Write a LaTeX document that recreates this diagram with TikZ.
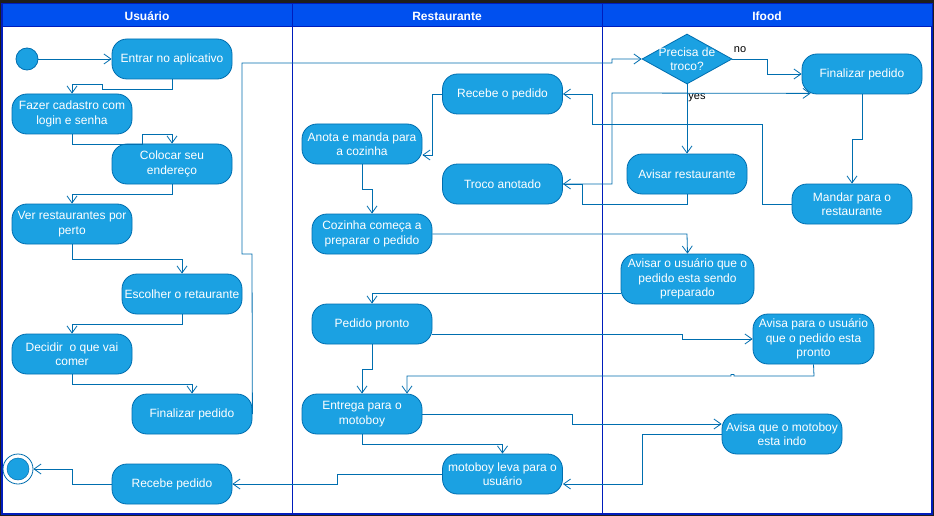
\documentclass[tikz,border=0pt]{standalone}
\usepackage{fontspec}
\setmainfont{Liberation Sans}
\usetikzlibrary{arrows.meta,shapes.geometric,calc}
\definecolor{nodefill}{HTML}{1BA1E2}
\definecolor{nodeline}{HTML}{006EAF}
\definecolor{headfill}{HTML}{0050EF}
\definecolor{laneline}{HTML}{001DBC}
\definecolor{darkbg}{HTML}{1E1E1E}
\begin{document}
\begin{tikzpicture}[x=1pt,y=-1pt,
  act/.style={draw=nodeline, fill=nodefill, rounded corners=15pt, text=white,
    font=\fontsize{12}{14.4}\selectfont, align=center,
    minimum width=120pt, minimum height=40pt, inner sep=1pt, line width=0.8pt},
  flow/.style={draw=nodeline, line width=0.8pt, -{Straight Barb[length=7pt,width=10pt]}},
  headtext/.style={text=white, font=\bfseries\fontsize{12}{14}\selectfont},
  lbl/.style={text=black, font=\fontsize{11}{13}\selectfont, inner sep=0pt}
]
\useasboundingbox (0,0) rectangle (934,516);
% background and frame
\fill[darkbg] (0,0) rectangle (934,516);
\filldraw[fill=white, draw=laneline, line width=2pt] (2,4) rectangle (932,514);
\filldraw[fill=headfill, draw=laneline, line width=1pt] (2,4) rectangle (932,27);
\draw[laneline, line width=1pt] (292,4) -- (292,514);
\draw[laneline, line width=1pt] (602,4) -- (602,514);
\node[headtext] (hU) at (147,16) {Usuário};
\node[headtext] (hR) at (447,16) {Restaurante};
\node[headtext] (hI) at (767,16) {Ifood};

% Usuario lane
\node[circle, fill=nodefill, draw=nodeline, line width=0.8pt, minimum size=22pt, inner sep=0pt] (start) at (27,59) {};
\node[act] (entrar) at (172,59) {Entrar no aplicativo};
\node[act] (fazer) at (72,114) {Fazer cadastro com\\login e senha};
\node[act] (colocar) at (172,164) {Colocar seu\\endereço};
\node[act] (ver) at (72,224) {Ver restaurantes por\\perto};
\node[act] (escolher) at (182,294) {Escolher o retaurante};
\node[act] (decidir) at (72,354) {Decidir\ \ o que vai\\comer};
\node[act] (finU) at (192,414) {Finalizar pedido};
\node[act] (recebeU) at (172,484) {Recebe pedido};
\node[circle, draw=nodeline, line width=0.8pt, minimum size=30pt, inner sep=0pt] (endc) at (18,469) {};
\node[circle, fill=nodefill, draw=nodeline, line width=0.5pt, minimum size=22pt, inner sep=0pt] (endin) at (18,469) {};

% Restaurante lane
\node[act] (recebeR) at (502.5,94) {Recebe o pedido};
\node[act] (anota) at (362,144) {Anota e manda para\\a cozinha};
\node[act] (troco) at (502.5,184) {Troco anotado};
\node[act] (cozinha) at (372,234) {Cozinha começa a\\preparar o pedido};
\node[act] (pronto) at (372,324) {Pedido pronto};
\node[act] (entrega) at (362,414) {Entrega para o\\motoboy};
\node[act] (motoboy) at (502.5,474) {motoboy leva para o\\usuário};

% Ifood lane
\node[diamond, aspect=1.8, fill=nodefill, draw=nodeline, line width=0.8pt, minimum width=90pt, minimum height=50pt, inner sep=0pt, text=white, align=center, font=\fontsize{12}{14}\selectfont] (dec) at (687,59) {};
\node[text=white, align=center, font=\fontsize{12}{14}\selectfont] (dectext) at (687,59) {Precisa de\\troco?};
\node[act] (finI) at (862,74) {Finalizar pedido};
\node[act] (avisarR) at (687,174) {Avisar restaurante};
\node[act] (mandar) at (852,204) {Mandar para o\\restaurante};
\node[act, minimum width=133pt, minimum height=50pt] (avisarU) at (687.5,279) {Avisar o usuário que o\\pedido esta sendo\\preparado};
\node[act, minimum width=121pt, minimum height=50pt] (avisaPronto) at (813.5,339) {Avisa para o usuário\\que o pedido esta\\pronto};
\node[act] (avisaMoto) at (782,434) {Avisa que o motoboy\\esta indo};

% labels
\node[lbl] (no) at (740,50) {no};
\node[lbl] (yes) at (697,98) {yes};

% connectors - usuario
\draw[flow] (start.east) -- (entrar.west);
\draw[flow] (entrar.south) -- (172,89) -- (102,89) -- (102,84) -- (72,84) -- (fazer.north);
\draw[flow] (fazer.south) -- (72,144) -- (142,144) -- (142,134) -- (172,134) -- (colocar.north);
\draw[flow] (colocar.south) -- (172,194) -- (72,194) -- (ver.north);
\draw[flow] (ver.south) -- (72,259) -- (182,259) -- (escolher.north);
\draw[flow] (escolher.south) -- (182,324) -- (72,324) -- (decidir.north);
\draw[flow] (decidir.south) -- (72,384) -- (192,384) -- (finU.north);
\draw[flow] (finU.east) -- (252,254) -- (242,254) -- (242,63) -- (612,63) -- (612,59) -- (dec.west);
% ifood decisions
\draw[flow] (dec.east) -- (767,59) -- (767,74) -- (finI.west);
\draw[flow] (dec.south) -- (avisarR.north);
\draw[flow] (finI.south) -- (862,139) -- (852,139) -- (mandar.north);
\draw[flow] (mandar.west) -- (762,204) -- (762,124) -- (592,124) -- (592,94) -- (recebeR.east);
\draw[flow] (recebeR.west) -- (432,94) -- (432,155) -- (anota.east |- 0,155);
\draw[flow] (anota.south) -- (362,189) -- (372,189) -- (cozinha.north);
\draw[flow] (avisarR.south) -- (687,204) -- (582,204) -- (582,184) -- (troco.east);
\draw[flow] (troco.east) -- (612,184) -- (612,93) -- ($(finI.south west)+(9,-1)$);
\draw[flow] (cozinha.east) -- (687,234) -- (avisarU.north);
\draw[flow] (avisarU.west |- 0,293) -- (372,293) -- (pronto.north);
\draw[flow] (pronto.east |- 0,334) -- (682,334) -- (682,339) -- (avisaPronto.west);
\draw[flow] (pronto.south) -- (372,369) -- (362,369) -- (entrega.north);
\draw[flow] (avisaPronto.south) -- (814,376) -- (734,376) -- (734,374.5) -- (731,374.5) -- (731,376) -- (407,376) -- (entrega.north -| 407,0);
\draw[flow] (entrega.east) -- (572,414) -- (572,424) -- (avisaMoto.west |- 0,424);
\draw[flow] (avisaMoto.west) -- (642,434) -- (642,484) -- (motoboy.east |- 0,484);
\draw[flow] (entrega.south) -- (362,444) -- (502.5,444) -- (motoboy.north);
\draw[flow] (motoboy.west) -- (337,474) -- (337,484) -- (recebeU.east);
\draw[flow] (recebeU.west) -- (72,484) -- (72,469) -- (endc.east);
\end{tikzpicture}
\end{document}
